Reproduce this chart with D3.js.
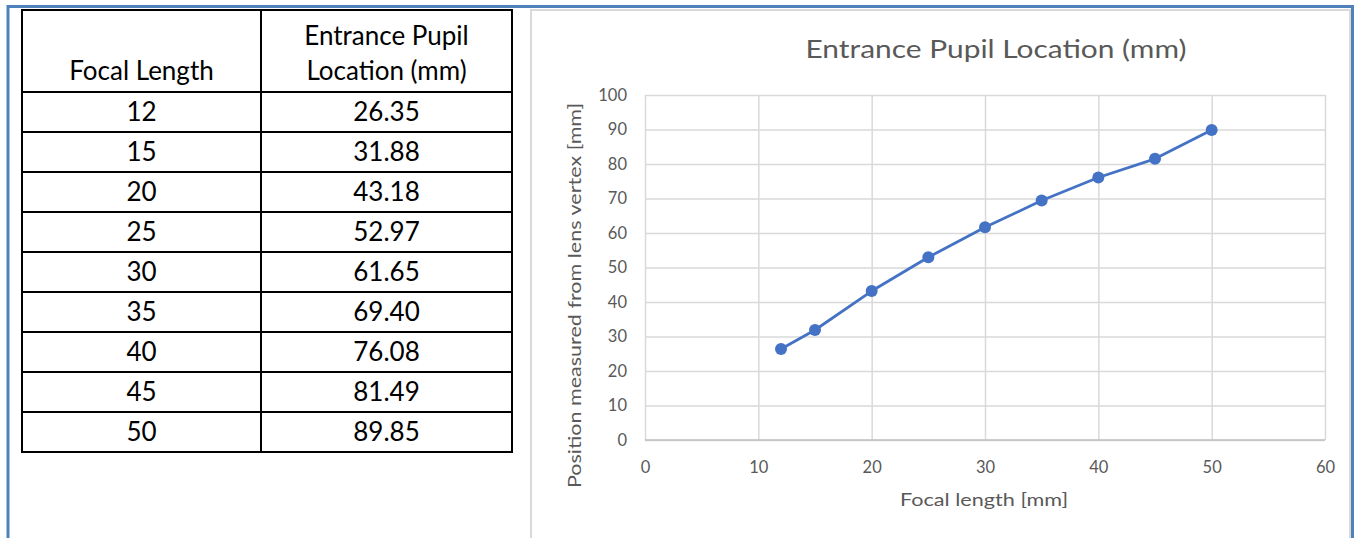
<!DOCTYPE html>
<html>
<head>
<meta charset="utf-8">
<script src="https://cdn.jsdelivr.net/npm/d3@7/dist/d3.min.js"></script>
<style>
  html, body { margin: 0; padding: 0; background: #fff; }
  svg { display: block; }
  text { font-family: Lato, "Open Sans", sans-serif; }
</style>
</head>
<body>
<svg id="chart" width="1354" height="538"></svg>
<script>
// ---- data ----
const focalLengths = [12, 15, 20, 25, 30, 35, 40, 45, 50];
const pupilLocations = [26.35, 31.88, 43.18, 52.97, 61.65, 69.40, 76.08, 81.49, 89.85];
const tableHeaders = [["Focal Length"], ["Entrance Pupil", "Location (mm)"]];
const chartTitle = "Entrance Pupil Location (mm)";
const xAxisTitle = "Focal length [mm]";
const yAxisTitle = "Position measured from lens vertex [mm]";
const xTicks = [0, 10, 20, 30, 40, 50, 60];
const yTicks = [0, 10, 20, 30, 40, 50, 60, 70, 80, 90, 100];

const svg = d3.select("#chart");

// ---- outer frame ----
const blue = "#4f81bd";
svg.append("line").attr("x1", 7).attr("x2", 1354).attr("y1", 6.5).attr("y2", 6.5)
  .attr("stroke", blue).attr("stroke-width", 3);
svg.append("line").attr("x1", 8).attr("x2", 8).attr("y1", 5).attr("y2", 538)
  .attr("stroke", blue).attr("stroke-width", 3);
svg.append("line").attr("x1", 1352.5).attr("x2", 1352.5).attr("y1", 5).attr("y2", 538)
  .attr("stroke", blue).attr("stroke-width", 3);

// chart panel border
svg.append("path").attr("d", "M531,538 V10 H1350 V538")
  .attr("fill", "none").attr("stroke", "#d9d9d9").attr("stroke-width", 2);

// ---- table ----
const colX = [22, 261, 512];
const headerTop = 10, headerBottom = 92, rowH = 40;
const nRows = focalLengths.length;
const tableBottom = headerBottom + rowH * nRows;
const tbl = svg.append("g");
const rowY = d3.scaleLinear().domain([0, nRows]).range([headerBottom, tableBottom]);

tbl.append("rect").attr("x", colX[0]).attr("y", headerTop)
  .attr("width", colX[2] - colX[0]).attr("height", tableBottom - headerTop)
  .attr("fill", "none").attr("stroke", "#000").attr("stroke-width", 2);
tbl.append("line").attr("x1", colX[1]).attr("x2", colX[1]).attr("y1", headerTop).attr("y2", tableBottom)
  .attr("stroke", "#000").attr("stroke-width", 2);
tbl.selectAll("line.row").data(d3.range(0, nRows)).join("line").attr("class", "row")
  .attr("x1", colX[0]).attr("x2", colX[2])
  .attr("y1", d => rowY(d)).attr("y2", d => rowY(d))
  .attr("stroke", "#000").attr("stroke-width", 2);

// header text
tableHeaders.forEach((lines, c) => {
  const cx = (colX[c] + colX[c + 1]) / 2;
  lines.forEach((t, i) => {
    tbl.append("text").attr("x", cx).attr("y", headerBottom - 12 - (lines.length - 1 - i) * 35)
      .attr("text-anchor", "middle").attr("font-size", 26).attr("fill", "#000").text(t);
  });
});
// rows
const rows = focalLengths.map((f, i) => [String(f), pupilLocations[i].toFixed(2)]);
rows.forEach((r, i) => {
  r.forEach((t, c) => {
    tbl.append("text").attr("x", (colX[c] + colX[c + 1]) / 2).attr("y", rowY(i) + 29)
      .attr("text-anchor", "middle").attr("font-size", 26).attr("fill", "#000").text(t);
  });
});

// ---- chart ----
const x = d3.scaleLinear().domain([0, 60]).range([645, 1325]);
const y = d3.scaleLinear().domain([0, 100]).range([440, 95]);
const grid = "#d9d9d9", textGrey = "#595959";

const gy = svg.append("g").attr("transform", `translate(${x(0)},0)`)
  .call(d3.axisLeft(y).tickValues(yTicks).tickSize(-(x(60) - x(0))).tickPadding(18).tickFormat(d3.format("d")));
gy.select(".domain").remove();
gy.selectAll(".tick line").attr("stroke", grid).attr("stroke-width", 1.5);
gy.selectAll(".tick text").attr("font-size", 16.5).attr("fill", textGrey)
  .attr("font-family", "Lato, sans-serif");

const gx = svg.append("g").attr("transform", `translate(0,${y(0)})`)
  .call(d3.axisBottom(x).tickValues(xTicks).tickSize(-(y(0) - y(100))).tickPadding(21).tickFormat(d3.format("d")));
gx.select(".domain").remove();
gx.selectAll(".tick line").attr("stroke", grid).attr("stroke-width", 1.5);
gx.selectAll(".tick text").attr("font-size", 16.5).attr("fill", textGrey)
  .attr("font-family", "Lato, sans-serif");

// base axis line
svg.append("line").attr("x1", x(0)).attr("x2", x(60)).attr("y1", y(0)).attr("y2", y(0))
  .attr("stroke", "#bfbfbf").attr("stroke-width", 1.5);

// series
const pts = focalLengths.map((f, i) => [f, pupilLocations[i]]);
svg.append("path").datum(pts)
  .attr("fill", "none").attr("stroke", "#4472c4").attr("stroke-width", 2.8)
  .attr("stroke-linejoin", "round")
  .attr("d", d3.line().x(d => x(d[0])).y(d => y(d[1])));
svg.selectAll("circle.pt").data(pts)
  .join("circle").attr("class", "pt")
  .attr("cx", d => x(d[0])).attr("cy", d => y(d[1])).attr("r", 6)
  .attr("fill", "#4472c4");

// titles
svg.append("text").attr("x", 996).attr("y", 58).attr("text-anchor", "middle")
  .attr("font-size", 25).attr("fill", textGrey)
  .attr("textLength", 381).attr("lengthAdjust", "spacingAndGlyphs").text(chartTitle);
svg.append("text").attr("x", 984).attr("y", 506).attr("text-anchor", "middle")
  .attr("font-size", 18).attr("fill", textGrey)
  .attr("textLength", 168).attr("lengthAdjust", "spacingAndGlyphs").text(xAxisTitle);
svg.append("text").attr("transform", "translate(581,295.5) rotate(-90)").attr("text-anchor", "middle")
  .attr("font-size", 17).attr("fill", textGrey)
  .attr("textLength", 385).attr("lengthAdjust", "spacingAndGlyphs").text(yAxisTitle);
</script>
</body>
</html>
